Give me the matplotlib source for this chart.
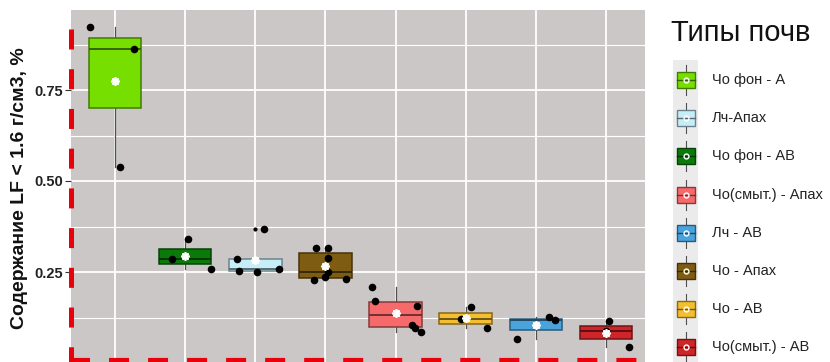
import matplotlib
matplotlib.use("Agg")
import matplotlib.pyplot as plt
from matplotlib.colors import to_rgb
from matplotlib.patches import Rectangle

plt.rcParams["font.family"] = ["Liberation Sans", "DejaVu Sans"]
plt.rcParams["lines.scale_dashes"] = False

# ---------------------------------------------------------------------------
# data (x order on the panel)
# ---------------------------------------------------------------------------
soil_types = ["Чо фон - А", "Чо фон - АВ", "Лч-Апах", "Чо - Апах",
              "Чо(смыт.) - Апах", "Чо - АВ", "Лч - АВ", "Чо(смыт.) - АВ"]
fill_colors = ["#76DF00", "#0B7A0B", "#C6EEF9", "#7E5C12",
               "#F66A6C", "#F3BE31", "#4AA3DC", "#CF2428"]

lf_values = [
    [0.923, 0.863, 0.538],
    [0.286, 0.341, 0.258],
    [0.285, 0.253, 0.250, 0.257, 0.368],
    [0.315, 0.315, 0.288, 0.249, 0.237, 0.228, 0.230],
    [0.210, 0.170, 0.157, 0.104, 0.096, 0.085],
    [0.154, 0.121, 0.096],
    [0.066, 0.126, 0.118],
    [0.116, 0.089, 0.045],
]
# horizontal jitter of each point
jitter = [
    [-0.36, 0.27, 0.07],
    [-0.19, 0.04, 0.37],
    [-0.26, -0.23, 0.03, 0.34, 0.13],
    [-0.14, 0.04, 0.03, 0.03, -0.01, -0.17, 0.29],
    [-0.34, -0.30, 0.30, 0.24, 0.27, 0.36],
    [0.07, -0.07, 0.30],
    [-0.27, 0.19, 0.27],
    [0.04, 0.0, 0.33],
]

legend_order = ["Чо фон - А", "Лч-Апах", "Чо фон - АВ", "Чо(смыт.) - Апах",
                "Лч - АВ", "Чо - Апах", "Чо - АВ", "Чо(смыт.) - АВ"]

y_ticks = [0.25, 0.50, 0.75]
y_minor = [0.125, 0.375, 0.625, 0.875]
y_label = "Содержание LF < 1.6 г/см3, %"
legend_title = "Типы почв"


def darken(c, f=0.55):
    r, g, b = to_rgb(c)
    return (r * f, g * f, b * f)


W, H = 830, 362
fig = plt.figure(figsize=(W / 100, H / 100), dpi=100)
fig.patch.set_facecolor("white")

ax = fig.add_axes([71 / W, 0, 574 / W, 352 / H])
ax.set_facecolor("#CBC7C7")
ax.set_xlim(0.372, 8.556)
ax.set_ylim(0.75 - 272 / 364, 0.75 + 80 / 364)

positions = list(range(1, len(soil_types) + 1))
ax.set_xticks(positions)
ax.set_yticks(y_ticks)
ax.set_yticks(y_minor, minor=True)
ax.set_yticklabels([f"{t:.2f}" for t in y_ticks], fontsize=10.5,
                   fontweight="bold", color="#222222")
ax.tick_params(axis="x", length=0, labelbottom=False)
ax.tick_params(axis="y", which="major", length=4, width=0.8,
               color="#333333", pad=2)
ax.tick_params(axis="y", which="minor", length=0)
ax.grid(True, which="major", color="white", lw=1.3)
ax.grid(True, which="minor", axis="y", color="white", lw=0.8)
ax.set_axisbelow(True)
for sp in ax.spines.values():
    sp.set_visible(False)

bp = ax.boxplot(lf_values, positions=positions, widths=0.75,
                patch_artist=True, whis=1.5, manage_ticks=False,
                flierprops=dict(marker="o", markersize=2,
                                markerfacecolor="black",
                                markeredgecolor="black"))
for i, c in enumerate(fill_colors):
    bp["boxes"][i].set(facecolor=c, edgecolor=darken(c), lw=1.1, zorder=2)
    bp["medians"][i].set(color=darken(c, 0.45), lw=1.4, zorder=3)
    for w in bp["whiskers"][2 * i:2 * i + 2]:
        w.set(color="#505050", lw=0.9, zorder=1.5)
    for cap in bp["caps"][2 * i:2 * i + 2]:
        cap.set_visible(False)

for i, (vals, offs) in enumerate(zip(lf_values, jitter)):
    xs = [positions[i] + o for o in offs]
    ax.scatter(xs, vals, s=30, color="black", zorder=4, lw=0)
    mean = sum(vals) / len(vals)
    ax.plot(positions[i], mean, marker=(8, 2, 0), color="white",
            markersize=6, mew=1.3, zorder=5)

fig.text(20 / W, 1 - 188 / H, y_label, rotation=90, ha="center",
         va="center", fontsize=14, fontweight="bold", color="#111111")

# ---------------------------------------------------------------------------
# overlay: legend + red dashed frame, in pixel coordinates
# ---------------------------------------------------------------------------
ov = fig.add_axes([0, 0, 1, 1], facecolor="none")
ov.set_xlim(0, W)
ov.set_ylim(H, 0)
ov.axis("off")

ov.text(671, 33, legend_title, fontsize=21, va="center", ha="left",
        color="#111111")
ov.add_patch(Rectangle((673, 60), 25, 302, facecolor="#EBEBEB",
                       edgecolor="none"))
color_of = dict(zip(soil_types, fill_colors))
for k, name in enumerate(legend_order):
    yc = 80 + k * 38.2
    c = color_of[name]
    ov.plot([686, 686], [yc - 15, yc + 15], color="#505050", lw=0.8)
    ov.add_patch(Rectangle((677, yc - 8), 18, 16, facecolor=c,
                           edgecolor=darken(c), lw=1.0, zorder=3))
    ov.plot([677, 695], [yc, yc], color=darken(c, 0.45), lw=1.0, zorder=4)
    ov.plot(686, yc, marker="o", markersize=3.5, mfc="none", mec="white",
            mew=1.0, zorder=5)
    ov.text(712, yc, name, fontsize=10.5, va="center", ha="left",
            color="#222222")

red = "#E8000B"
ov.plot([71, 71], [29, 365], color=red, lw=3.6, dashes=(14.4, 14.2),
        solid_capstyle="butt")
ov.plot([70, 645], [360, 360], color=red, lw=3.0, dashes=(14.4, 13.7),
        solid_capstyle="butt")

fig.savefig("out.png", dpi=100)
